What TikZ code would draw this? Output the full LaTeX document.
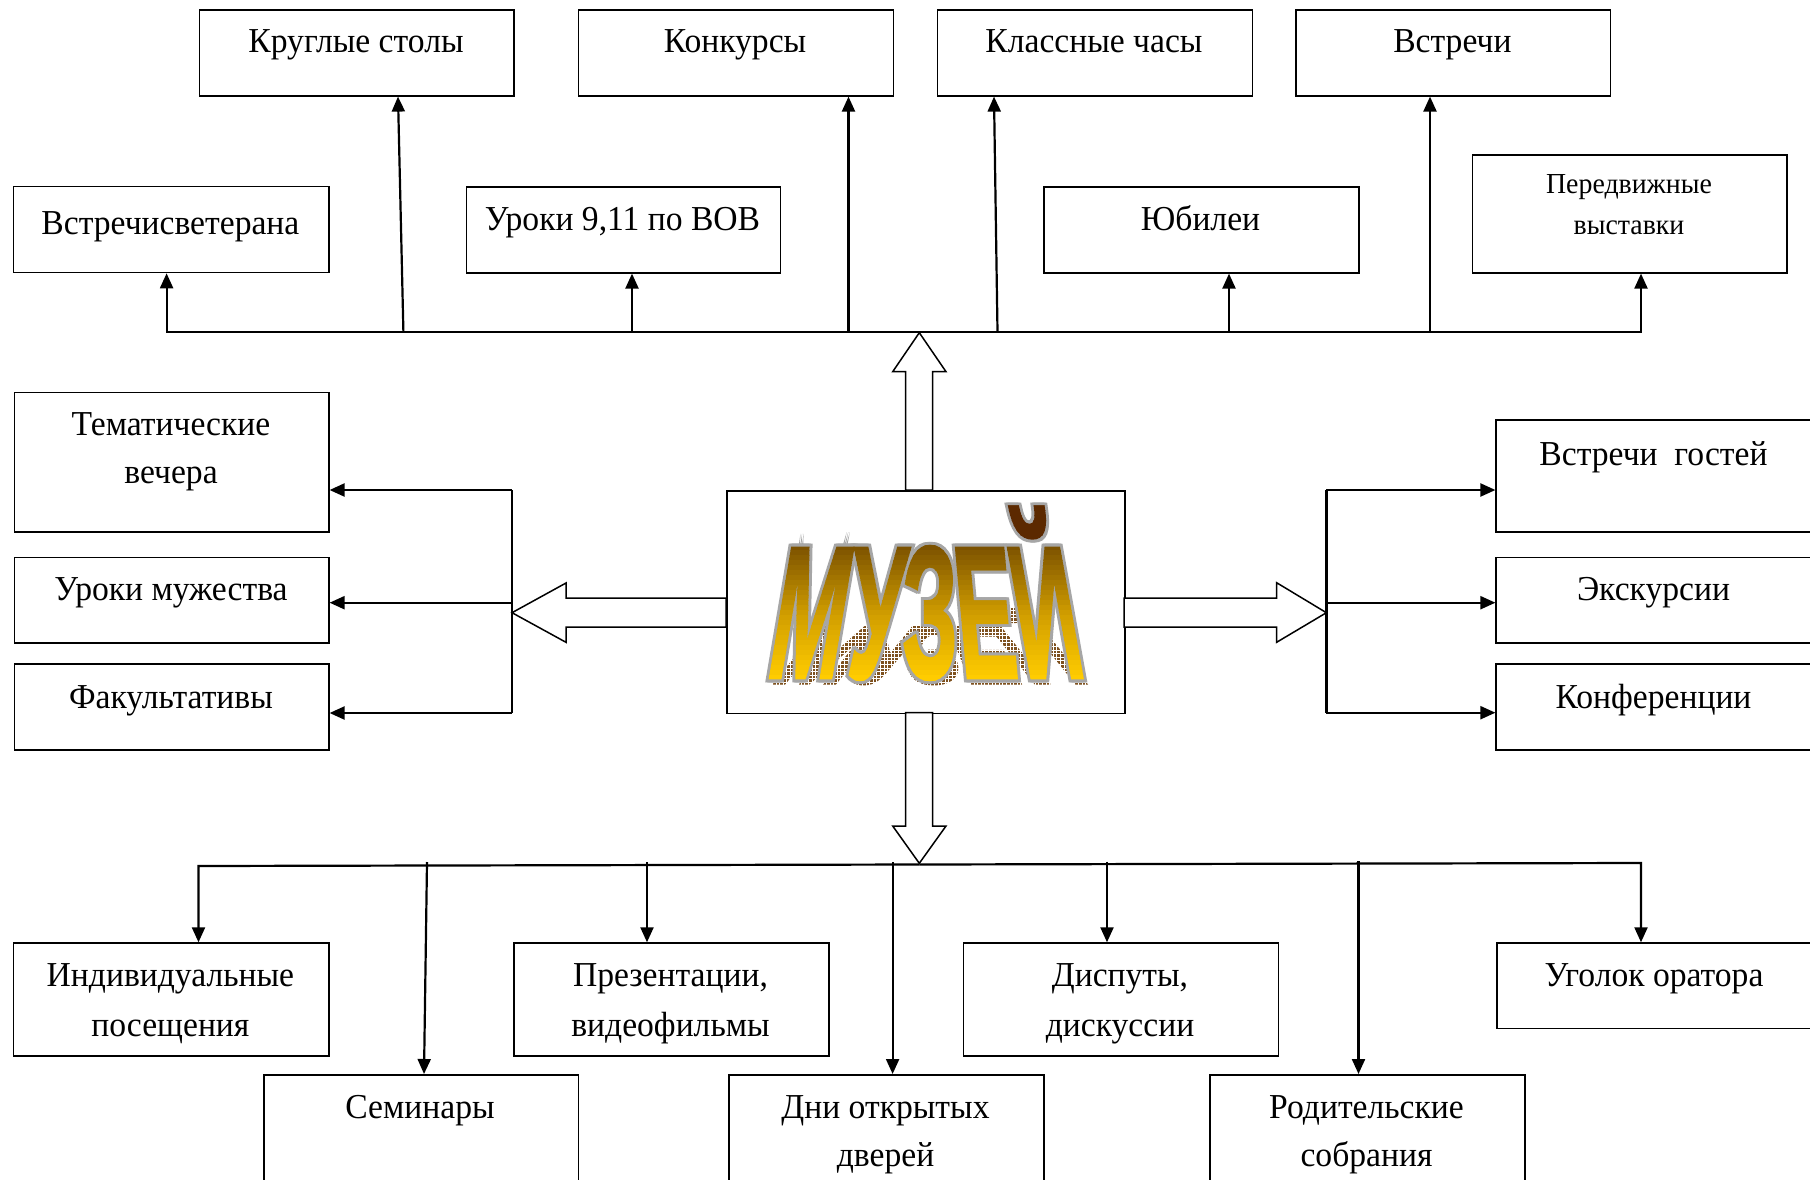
\documentclass[tikz,border=0pt]{standalone}
\usepackage{fontspec}
\setmainfont{Liberation Serif}[FakeStretch=0.96]
\usetikzlibrary{arrows.meta}
\font\muzmainf="Liberation Sans Bold" at 189pt
\font\muzfillf="Liberation Sans Bold:embolden=1.5" at 189pt
\font\muzgrayf="Liberation Sans Bold:embolden=4.5" at 189pt
\definecolor{muzgray}{RGB}{166,166,166}
\definecolor{muzshadow}{RGB}{125,80,30}
\newcommand\lab{\fontsize{35}{42}\selectfont}
\newcommand\smalllab{\fontsize{29}{35}\selectfont}
\tikzset{
  box/.style={draw, line width=1.6pt, rectangle, inner sep=0pt, anchor=north west},
  lbl/.style={anchor=base, inner sep=0pt, font=\lab},
  slbl/.style={anchor=base, inner sep=0pt, font=\smalllab},
  conn/.style={line width=2.2pt},
  arr/.style={conn, -{Triangle[length=15pt,width=13pt]}},
  hollow/.style={draw, line width=1.5pt, fill=white, line join=miter},
  muzl/.style={transform shape, anchor=base, inner sep=0pt, xscale=0.47}}
\newcommand\mkbox[5]{\node[box, minimum width={(#4-#2)*1pt}, minimum height={(#5-#3)*1pt}] (#1) at (#2,#3) {};}
\newcommand\muzlet[5]{\begin{scope}[shift={(#1,678)}]\node[xslant=#2, muzl, #4] (#5) at (0,0) {#3};\end{scope}}
\newcommand\muzword[1]{%
  \muzlet{800.6}{0.17}{М}{#1}{mz1}%
  \muzlet{873}{0.07}{У}{#1}{mz2}%
  \muzlet{930}{0}{З}{#1}{mz3}%
  \muzlet{991}{-0.09}{Е}{#1}{mz4}%
  \muzlet{1057}{-0.18}{Й}{#1}{mz5}}
\newcommand\muzshad[4]{\begin{scope}[shift={(#1,684)}]\node[xslant=#2, yscale=0.44, muzl, text=muzshadow, font=\muzfillf] (#4) at (0,0) {#3};\end{scope}}
\begin{document}
\begin{tikzpicture}[x=1pt,y=-1pt]
\useasboundingbox (0,0) rectangle (1810,1180);
\clip (0,0) rectangle (1810,1180);

% ---------- boxes ----------
\mkbox{kr}{198.5}{9}{513}{95}
\mkbox{konk}{577.5}{9}{892.6}{95}
\mkbox{klass}{936.6}{9}{1251.7}{95}
\mkbox{vs}{1295}{9}{1609.8}{95}
\mkbox{vstr}{12.8}{185.7}{328}{271.7}
\mkbox{uroki}{465.5}{186}{779.5}{272}
\mkbox{yub}{1043}{186}{1358}{272}
\mkbox{pered}{1471.7}{154}{1786}{272}

\mkbox{tem}{13.6}{391.7}{328}{531}
\mkbox{urm}{13.6}{556.7}{328}{642}
\mkbox{fak}{13.6}{663}{328}{749}

\mkbox{vg}{1495.4}{419.3}{1813}{531}
\mkbox{exc}{1495.4}{556.7}{1813}{642.3}
\mkbox{conf}{1495.4}{663.3}{1813}{749.3}

\mkbox{muz}{726}{490}{1124}{712.7}

\mkbox{indiv}{12.8}{942.3}{328}{1055}
\mkbox{prez}{513}{942.3}{828}{1055}
\mkbox{disp}{962.7}{942.3}{1277.8}{1055}
\mkbox{ugol}{1496}{942.3}{1813}{1027.7}
\mkbox{semin}{263}{1074}{577.5}{1200}
\mkbox{dni}{728}{1074}{1043}{1200}
\mkbox{rodit}{1209}{1074}{1524}{1200}

% ---------- labels ----------
\node[lbl] (t-kr) at (356,53) {Круглые столы};
\node[lbl] (t-konk) at (735,53) {Конкурсы};
\node[lbl] (t-klass) at (1094,53) {Классные часы};
\node[lbl] (t-vs) at (1452.4,53) {Встречи};
\node[lbl] (t-vstr) at (170.4,234) {Встречисветерана};
\node[lbl] (t-uroki) at (622.5,230) {Уроки 9,11 по ВОВ};
\node[lbl] (t-yub) at (1200.5,230) {Юбилеи};
\node[slbl] (t-pered1) at (1629,193.3) {Передвижные};
\node[slbl] (t-pered2) at (1629,234) {выставки};
\node[lbl] (t-tem1) at (171,435) {Тематические};
\node[lbl] (t-tem2) at (171,483) {вечера};
\node[lbl] (t-urm) at (171,600) {Уроки мужества};
\node[lbl] (t-fak) at (171,708) {Факультативы};
\node[lbl] (t-vg) at (1653.5,465) {Встречи~~гостей};
\node[lbl] (t-exc) at (1653.5,600) {Экскурсии};
\node[lbl] (t-conf) at (1653.5,708) {Конференции};
\node[lbl] (t-ind1) at (170.4,986.7) {Индивидуальные};
\node[lbl] (t-ind2) at (170.4,1036) {посещения};
\node[lbl] (t-prez1) at (670.5,986.7) {Презентации,};
\node[lbl] (t-prez2) at (670.5,1036) {видеофильмы};
\node[lbl] (t-disp1) at (1120,986.7) {Диспуты,};
\node[lbl] (t-disp2) at (1120,1036) {дискуссии};
\node[lbl] (t-ug) at (1654,986.7) {Уголок оратора};
\node[lbl] (t-sem) at (420,1118.3) {Семинары};
\node[lbl] (t-dni1) at (885.5,1118.3) {Дни открытых};
\node[lbl] (t-dni2) at (885.5,1166.7) {дверей};
\node[lbl] (t-rod1) at (1366.5,1118.3) {Родительские};
\node[lbl] (t-rod2) at (1366.5,1166.7) {собрания};

% ---------- top bus ----------
\coordinate (tb-l) at (166.6,332);
\coordinate (tb-c) at (919.3,332);
\coordinate (tb-r) at (1641,332);
\draw[arr] (tb-c) -- (tb-l) -- (vstr.south -| tb-l);
\draw[arr] (tb-c) -- (tb-r) -- (pered.south -| tb-r);
\coordinate (b1) at (403.4,332); \coordinate (k1) at (398,0);
\draw[arr] (b1) -- (kr.south -| k1);
\coordinate (b2) at (632,332);
\draw[arr] (b2) -- (uroki.south -| b2);
\coordinate (b3) at (848.5,332);
\draw[arr] (b3) -- (konk.south -| b3);
\coordinate (b4) at (997.5,332); \coordinate (k4) at (994,0);
\draw[arr] (b4) -- (klass.south -| k4);
\coordinate (b5) at (1229,332);
\draw[arr] (b5) -- (yub.south -| b5);
\coordinate (b6) at (1430,332);
\draw[arr] (b6) -- (vs.south -| b6);

% ---------- left bracket ----------
\coordinate (lb-t) at (512,490);
\coordinate (lb-m) at (512,602.7);
\coordinate (lb-b) at (512,713);
\draw[conn] (lb-t) -- (lb-b);
\draw[arr] (lb-t) -- (tem.east |- lb-t);
\draw[arr] (lb-m) -- (urm.east |- lb-m);
\draw[arr] (lb-b) -- (fak.east |- lb-b);

% ---------- right bracket ----------
\coordinate (rb-t) at (1326.4,490);
\coordinate (rb-m) at (1326.4,602.7);
\coordinate (rb-b) at (1326.4,712.7);
\draw[conn] (rb-t) -- (rb-b);
\draw[arr] (rb-t) -- (vg.west |- rb-t);
\draw[arr] (rb-m) -- (exc.west |- rb-m);
\draw[arr] (rb-b) -- (conf.west |- rb-b);

% ---------- bottom bus ----------
\coordinate (bb-l) at (198.5,866);
\coordinate (bb-c) at (919.3,864.5);
\coordinate (bb-r) at (1641,863);
\draw[arr] (bb-c) -- (bb-l) -- (indiv.north -| bb-l);
\draw[arr] (bb-c) -- (bb-r) -- (ugol.north -| bb-r);
\coordinate (s1) at (427,862); \coordinate (s1x) at (424,0);
\draw[arr] (s1) -- (semin.north -| s1x);
\coordinate (s2) at (647,862);
\draw[arr] (s2) -- (prez.north -| s2);
\coordinate (s3) at (892.6,862);
\draw[arr] (s3) -- (dni.north -| s3);
\coordinate (s4) at (1107,861.5);
\draw[arr] (s4) -- (disp.north -| s4);
\coordinate (s5) at (1358.5,861);
\draw[arr] (s5) -- (rodit.north -| s5);

% ---------- hollow block arrows ----------
\draw[hollow] (919.3,332.7) -- (946,371.7) -- (932.7,371.7) -- (932.7,490) -- (905.7,490) -- (905.7,371.7) -- (892.7,371.7) -- cycle;
\draw[hollow] (919.3,863.3) -- (946,826) -- (932.7,826) -- (932.7,712.7) -- (905.7,712.7) -- (905.7,826) -- (892.7,826) -- cycle;
\draw[hollow] (512,612.7) -- (566,583) -- (566,598) -- (726,598) -- (726,627) -- (566,627) -- (566,642.3) -- cycle;
\draw[hollow] (1326.4,612.7) -- (1276.6,582.7) -- (1276.6,598) -- (1124,598) -- (1124,627) -- (1276.6,627) -- (1276.6,642.3) -- cycle;

% ---------- МУЗЕЙ word art ----------
\muzshad{804.6}{0.8}{М}{sh1}
\muzshad{877}{0.35}{У}{sh2}
\muzshad{934}{0}{З}{sh3}
\muzshad{995}{-0.4}{Е}{sh4}
\muzshad{1061}{-0.8}{Й}{sh5}
\begin{scope}
  \clip (740,560) rectangle (1115,700);
  \foreach \k in {0,...,105} {\draw[white, line width=1pt] (740+3.6*\k,560) -- ++(0,140);}
  \foreach \k in {0,...,40} {\draw[white, line width=1pt] (740,560+3.6*\k) -- ++(375,0);}
\end{scope}
\foreach \dx in {-1.6,0,1.6} {
  \begin{scope}[shift={(\dx,0)}]
    \muzword{text=muzgray, font=\muzgrayf}
  \end{scope}
}
\foreach \i in {0,...,36} {
  \pgfmathsetmacro\ya{500+5*\i}
  \pgfmathsetmacro\ym{\ya+2.5}
  \pgfmathsetmacro\colr{\ym<540 ? 0.36 : (\ym<615 ? 0.45+0.37*(\ym-540)/75 : min(1,0.82+0.18*(\ym-615)/63))}
  \pgfmathsetmacro\colg{\ym<540 ? 0.16 : (\ym<615 ? 0.29+0.33*(\ym-540)/75 : min(0.8,0.62+0.18*(\ym-615)/63))}
  \definecolor{stripc}{rgb}{\colr,\colg,0}
  \begin{scope}
    \clip (727,\ya) rectangle (1123,\ya+5.6);
    \muzword{text=stripc, font=\muzfillf}
  \end{scope}
}
\end{tikzpicture}
\end{document}
